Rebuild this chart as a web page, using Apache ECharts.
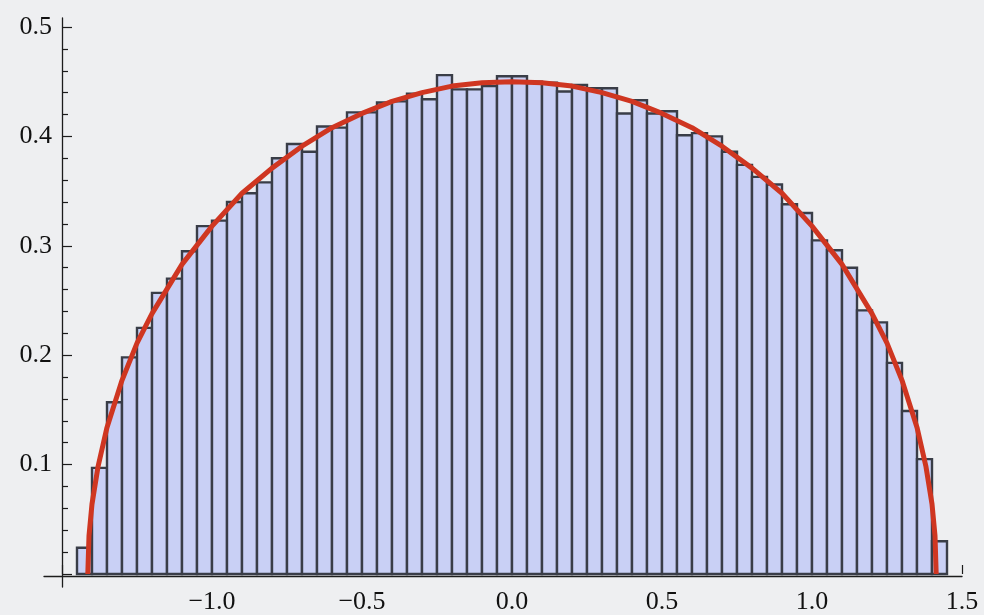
<!DOCTYPE html>
<html>
<head>
<meta charset="utf-8">
<script src="https://cdn.jsdelivr.net/npm/echarts@6/dist/echarts.min.js"></script>
<style>
  html, body { margin: 0; padding: 0; background: #eeeff1; }
  #chart { width: 984px; height: 615px; }
</style>
</head>
<body>
<div id="chart"></div>
<script>
// Histogram of eigenvalue density, bins of width 0.05 starting at -1.45
const binStart = -1.45;
const binWidth = 0.05;
const density = [
  0.024, 0.097, 0.157, 0.198, 0.225, 0.257, 0.270, 0.295, 0.318, 0.323,
  0.340, 0.348, 0.358, 0.380, 0.393, 0.386, 0.409, 0.408, 0.422, 0.422,
  0.431, 0.432, 0.439, 0.434, 0.456, 0.443, 0.443, 0.446, 0.455, 0.455,
  0.450, 0.449, 0.441, 0.447, 0.444, 0.444, 0.421, 0.433, 0.421, 0.423,
  0.401, 0.403, 0.400, 0.386, 0.374, 0.363, 0.356, 0.338, 0.330, 0.305,
  0.296, 0.280, 0.241, 0.230, 0.193, 0.149, 0.105, 0.030
];

// Semicircle overlay, sampled points
const curveX = [
  -1.414, -1.41, -1.40, -1.38, -1.35, -1.30, -1.25, -1.20, -1.10, -1.00,
  -0.90, -0.80, -0.70, -0.60, -0.50, -0.40, -0.30, -0.20, -0.10, 0.00,
  0.10, 0.20, 0.30, 0.40, 0.50, 0.60, 0.70, 0.80, 0.90, 1.00,
  1.10, 1.20, 1.25, 1.30, 1.35, 1.38, 1.40, 1.41, 1.414
];
const curveY = [
  0.000, 0.035, 0.064, 0.098, 0.134, 0.177, 0.211, 0.238, 0.283, 0.318,
  0.348, 0.371, 0.391, 0.408, 0.421, 0.432, 0.440, 0.446, 0.449, 0.450,
  0.449, 0.446, 0.440, 0.432, 0.421, 0.408, 0.391, 0.371, 0.348, 0.318,
  0.283, 0.238, 0.211, 0.177, 0.134, 0.098, 0.064, 0.035, 0.000
];

const xTickInterval = 0.5;
const yTickInterval = 0.1;

const bins = density.map((d, i) => [binStart + i * binWidth, binStart + (i + 1) * binWidth, d]);
const curve = curveX.map((x, i) => [x, curveY[i]]);

const axisColor = '#1c1c1c';
const labelFont = { fontFamily: 'Liberation Serif', fontSize: 26, color: '#111' };

function fmt(v) {
  const s = Math.abs(v).toFixed(1);
  return v < 0 ? '\u2212' + s : s;
}

const chart = echarts.init(document.getElementById('chart'), null, { renderer: 'canvas' });

chart.setOption({
  backgroundColor: '#eeeff1',
  animation: false,
  grid: [
    { left: 62, right: 22, top: 27, bottom: 39 },   // data grid
    { left: 44, right: 22, top: 27, bottom: 39 },   // horizontal axis line
    { left: 62, right: 22, top: 18, bottom: 28 }    // vertical axis line
  ],
  xAxis: [
    {
      gridIndex: 0, type: 'value', min: -1.5, max: 1.5, interval: xTickInterval,
      position: 'bottom',
      axisLine: { show: false, onZero: false },
      axisTick: { show: true, inside: true, length: 9, lineStyle: { color: axisColor, width: 1.2 } },
      axisLabel: Object.assign({ margin: 15, formatter: v => (Math.abs(v + 1.5) < 1e-9 ? '' : fmt(v)) }, labelFont),
      splitLine: { show: false }
    },
    {
      gridIndex: 1, type: 'value', min: -1.56, max: 1.5,
      axisLine: { show: true, onZero: false, lineStyle: { color: axisColor, width: 1.3 } },
      axisTick: { show: false }, axisLabel: { show: false }, splitLine: { show: false }
    },
    {
      gridIndex: 2, type: 'value', min: -1.5, max: 1.5, show: false
    }
  ],
  yAxis: [
    {
      gridIndex: 0, type: 'value', min: 0, max: 0.5, interval: yTickInterval,
      position: 'left',
      axisLine: { show: false, onZero: false },
      axisTick: { show: true, inside: true, length: 10, lineStyle: { color: axisColor, width: 1.2 } },
      minorTick: { show: true, splitNumber: 5, length: 6, lineStyle: { color: axisColor, width: 1.2 } },
      axisLabel: Object.assign({ margin: 10, formatter: v => (v === 0 ? '' : fmt(v)) }, labelFont),
      splitLine: { show: false }
    },
    {
      gridIndex: 1, type: 'value', min: 0, max: 0.5, show: false
    },
    {
      gridIndex: 2, type: 'value', min: -0.01, max: 0.5082,
      axisLine: { show: true, onZero: false, lineStyle: { color: axisColor, width: 1.3 } },
      axisTick: { show: false }, axisLabel: { show: false }, splitLine: { show: false }
    }
  ],
  series: [
    {
      type: 'custom',
      xAxisIndex: 0, yAxisIndex: 0,
      data: bins,
      clip: false,
      renderItem: function (params, api) {
        const p0 = api.coord([api.value(0), api.value(2)]);
        const p1 = api.coord([api.value(1), 0]);
        return {
          type: 'rect',
          shape: { x: p0[0], y: p0[1], width: p1[0] - p0[0], height: p1[1] - p0[1] },
          style: { fill: '#c9d0f5', stroke: '#393d47', lineWidth: 2.4 }
        };
      },
      z: 2
    },
    {
      type: 'line',
      xAxisIndex: 0, yAxisIndex: 0,
      data: curve,
      showSymbol: false,
      smooth: false,
      clip: false,
      lineStyle: { color: '#cf3621', width: 5, cap: 'butt', join: 'round' },
      z: 3
    }
  ]
});
</script>
</body>
</html>
